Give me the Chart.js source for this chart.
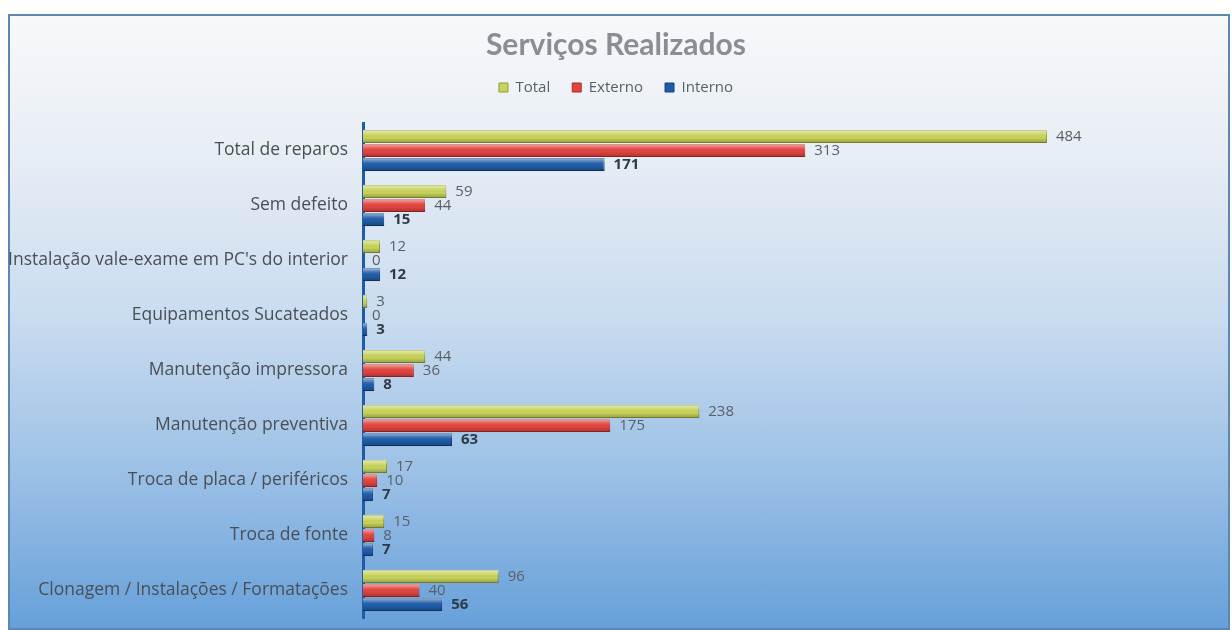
<!DOCTYPE html>
<html>
<head>
<meta charset="utf-8">
<script src="https://cdn.jsdelivr.net/npm/chart.js@4.4.0/dist/chart.umd.min.js"></script>
<style>
  html, body { margin: 0; padding: 0; background: #ffffff; }
  #frame {
    position: absolute; left: 8px; top: 14px; width: 1218px; height: 612px;
    border: 2px solid #5f85b2;
    background: linear-gradient(to bottom, #f7f8fa 0%, #e8eef5 22%, #c8dbef 50%, #9bc0e6 75%, #66a0da 100%);
  }
  #servicosChart { position: absolute; left: 0; top: 0; }
</style>
</head>
<body>
<div id="frame"></div>
<canvas id="servicosChart" width="1232" height="630"></canvas>
<script>
const categories = [
  'Total de reparos',
  'Sem defeito',
  "Instalação vale-exame em PC's do interior",
  'Equipamentos Sucateados',
  'Manutenção impressora',
  'Manutenção preventiva',
  'Troca de placa / periféricos',
  'Troca de fonte',
  'Clonagem / Instalações / Formatações'
];
const totalValues   = [484, 59, 12, 3, 44, 238, 17, 15, 96];
const externoValues = [313, 44, 0, 0, 36, 175, 10, 8, 40];
const internoValues = [171, 15, 12, 3, 8, 63, 7, 7, 56];

const FONT = '"Open Sans", Lato, sans-serif';

// extra room under the legend
const legendSpace = {
  id: 'legendSpace',
  beforeInit(chart) {
    const fit = chart.legend.fit;
    chart.legend.fit = function() {
      fit.bind(chart.legend)();
      this.height += 18;
    };
  }
};

// glossy shading + value labels at the end of each bar
const valueLabels = {
  id: 'valueLabels',
  afterDatasetsDraw(chart) {
    const ctx = chart.ctx;
    chart.data.datasets.forEach(function(ds, i) {
      const meta = chart.getDatasetMeta(i);
      meta.data.forEach(function(bar, j) {
        const top = bar.y - bar.height / 2;
        const g = ctx.createLinearGradient(0, top, 0, top + bar.height);
        g.addColorStop(0, 'rgba(255,255,255,0.55)');
        g.addColorStop(0.35, 'rgba(255,255,255,0.1)');
        g.addColorStop(0.6, 'rgba(0,0,0,0)');
        g.addColorStop(1, 'rgba(0,0,0,0.25)');
        ctx.save();
        ctx.fillStyle = g;
        ctx.fillRect(bar.base, top, bar.x - bar.base, bar.height);
        ctx.restore();

        ctx.save();
        ctx.font = (i === 2 ? 'bold ' : '') + '15px ' + FONT;
        ctx.fillStyle = i === 2 ? '#2f3a48' : '#5a5f66';
        ctx.textBaseline = 'middle';
        ctx.textAlign = 'left';
        ctx.fillText(ds.data[j], bar.x + 9, bar.y);
        ctx.restore();
      });
    });
  }
};

const ctx = document.getElementById('servicosChart').getContext('2d');
const servicosChart = new Chart(ctx, {
  type: 'bar',
  data: {
    labels: categories,
    datasets: [
      { label: 'Total', data: totalValues, backgroundColor: '#c8d35a', borderColor: '#8f9b33', borderWidth: 1 },
      { label: 'Externo', data: externoValues, backgroundColor: '#e2443f', borderColor: '#b02a27', borderWidth: 1 },
      { label: 'Interno', data: internoValues, backgroundColor: '#1f5ca8', borderColor: '#153f78', borderWidth: 1 }
    ]
  },
  options: {
    indexAxis: 'y',
    responsive: false,
    animation: false,
    categoryPercentage: 0.77,
    barPercentage: 0.92,
    layout: { padding: { left: 0, right: 0, top: 0, bottom: 12 } },
    plugins: {
      title: {
        display: true,
        text: 'Serviços Realizados',
        color: '#8a8d91',
        font: { family: 'Lato, "Open Sans", sans-serif', size: 30, weight: 'bold' },
        padding: { top: 27, bottom: -5 }
      },
      legend: {
        display: true,
        labels: {
          color: '#5a5f66',
          font: { family: FONT, size: 15 },
          boxWidth: 9,
          boxHeight: 9,
          padding: 22
        }
      },
      tooltip: { enabled: false }
    },
    scales: {
      x: {
        display: false,
        min: 0,
        max: 615
      },
      y: {
        grid: { display: false },
        border: { display: true, color: '#1f5ca8', width: 3 },
        ticks: {
          color: '#4a4f55',
          font: { family: FONT, size: 17.5 },
          padding: 7
        },
        afterFit: function(scale) {
          scale.width = 363;
          scale.paddingTop = 0;
          scale.paddingBottom = 0;
        }
      }
    }
  },
  plugins: [legendSpace, valueLabels]
});
</script>
</body>
</html>
